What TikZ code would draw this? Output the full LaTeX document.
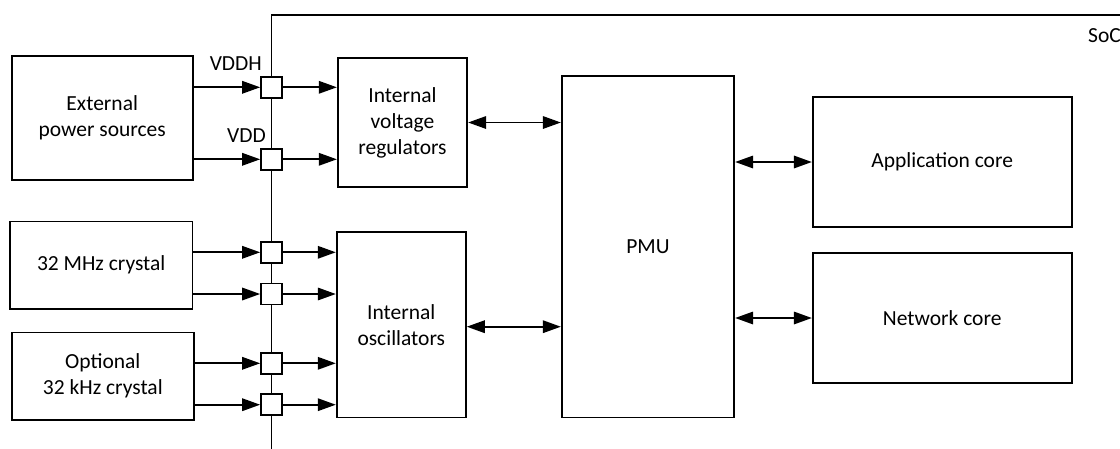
\documentclass[tikz,border=0pt]{standalone}
\usepackage{fontspec}
\setmainfont{Carlito}
\usetikzlibrary{arrows.meta}
\begin{document}
\begin{tikzpicture}[x=1pt,y=-1pt,
  txt/.style={font=\fontsize{21.5pt}{26pt}\selectfont},
  blk/.style={draw, line width=1.7pt, inner sep=0pt, align=center, txt},
  pinbox/.style={draw, fill=white, line width=1.7pt, minimum size=21pt, inner sep=0pt},
  lbl/.style={inner sep=0pt, txt},
  wire/.style={line width=1.7pt},
  sarr/.style={wire, -{Triangle[length=18pt,width=12.5pt]}},
  darr/.style={wire, {Triangle[length=18pt,width=12.5pt]}-{Triangle[length=18pt,width=12.5pt]}}]
\useasboundingbox (0,0) rectangle (1120,448);
% blocks
\node[blk, minimum width=181pt, minimum height=124.3pt] (ext) at (102.2,117.9) {External\\power sources};
\node[blk, minimum width=182.5pt, minimum height=87.5pt] (mhz) at (101.2,265.2) {32 MHz crystal};
\node[blk, minimum width=182.3pt, minimum height=87.7pt] (opt) at (102.8,376.2) {Optional\\32 kHz crystal};
\node[blk, minimum width=129.6pt, minimum height=128.4pt] (reg) at (402.5,122.5) {Internal\\voltage\\regulators};
\node[blk, minimum width=129.3pt, minimum height=185.3pt] (osc) at (401.3,324.7) {Internal\\oscillators};
\node[blk, minimum width=172.6pt, minimum height=341.3pt] (pmu) at (648,246.7) {PMU};
\node[blk, minimum width=259pt, minimum height=129.4pt] (app) at (942.2,162) {Application core};
\node[blk, minimum width=259pt, minimum height=129.4pt] (net) at (942.2,318) {Network core};
% SoC boundary
\coordinate (socr) at (1125,14.7);
\coordinate (soctl) at (271.5,14.7);
\coordinate (socb) at (271.5,452);
\draw[wire] (socr) -- (soctl) -- (socb);
\node[lbl, anchor=base west] (soc) at (1088,42.7) {SoC};
% pins
\node[pinbox] (p1) at (271.5,87.3) {};
\node[pinbox] (p2) at (271.5,159.3) {};
\node[pinbox] (p3) at (271.5,252.3) {};
\node[pinbox] (p4) at (271.5,294) {};
\node[pinbox] (p5) at (271.5,363.3) {};
\node[pinbox] (p6) at (271.5,404.7) {};
\node[lbl, anchor=base east] (vddh) at (262,70) {VDDH};
\node[lbl, anchor=base east] (vdd) at (266,142.7) {VDD};
% pin arrows
\draw[sarr] (ext.east |- p1) -- (p1);
\draw[sarr] (p1) -- (p1 -| reg.west);
\draw[sarr] (ext.east |- p2) -- (p2);
\draw[sarr] (p2) -- (p2 -| reg.west);
\draw[sarr] (mhz.east |- p3) -- (p3);
\draw[sarr] (p3) -- (p3 -| osc.west);
\draw[sarr] (mhz.east |- p4) -- (p4);
\draw[sarr] (p4) -- (p4 -| osc.west);
\draw[sarr] (opt.east |- p5) -- (p5);
\draw[sarr] (p5) -- (p5 -| osc.west);
\draw[sarr] (opt.east |- p6) -- (p6);
\draw[sarr] (p6) -- (p6 -| osc.west);
% PMU links
\draw[darr] (reg.east) -- (reg.east -| pmu.west);
\draw[darr] ([yshift=-2pt]osc.east) -- ([yshift=-2pt]osc.east -| pmu.west);
\draw[darr] (app.west -| pmu.east) -- (app.west);
\draw[darr] (net.west -| pmu.east) -- (net.west);
\end{tikzpicture}
\end{document}
